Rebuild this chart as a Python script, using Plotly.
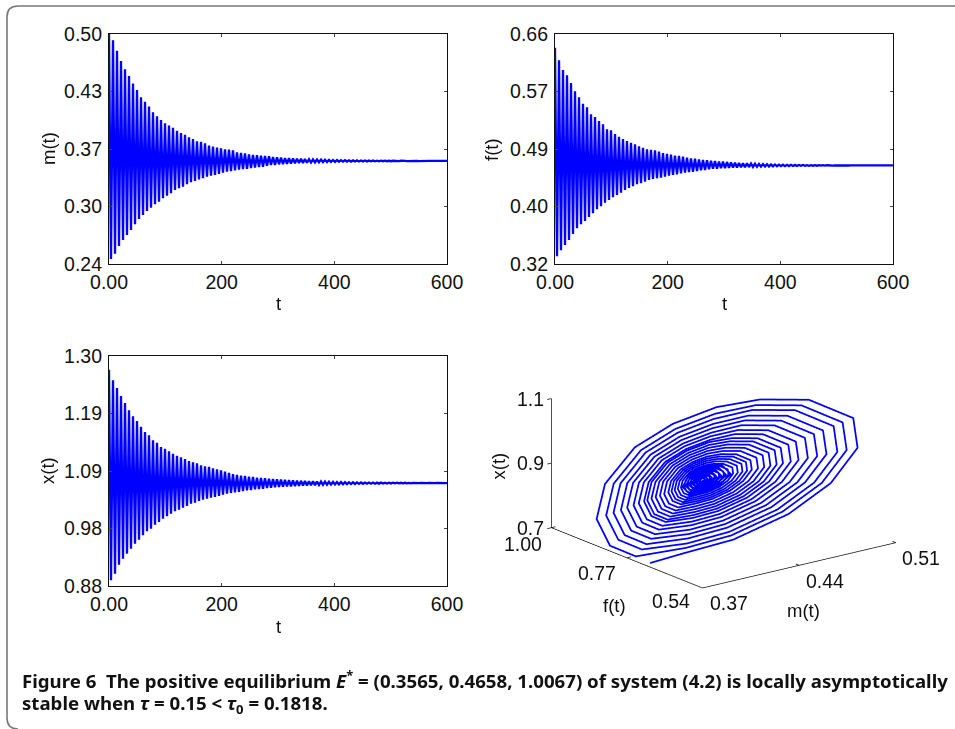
import plotly.graph_objects as go

W, H = 955, 729
t_cycle = [0,7.1,14.2,21.3,28.4,35.5,42.6,49.7,56.8,63.9,71,78.1,85.2,92.3,99.4,106.5,113.6,120.7,127.8,134.9,142,149.1,156.2,163.3,170.4,177.5,184.6,191.7,198.8,205.9,213,220.1,227.2,234.3,241.4,248.5,255.6,262.7,269.8,276.9,284,291.1,298.2,305.3,312.4,319.5,326.6,333.7,340.8,347.9,355,362.1,369.2,376.3,383.4,390.5,397.6,404.7,411.8,418.9,426,433.1,440.2,447.3,454.4,461.5,468.6,475.7,482.8,489.9,497,504.1,511.2,518.3,525.4,532.5,539.6,546.7,553.8,560.9,568,575.1,582.2,589.3,596.4]
half_period = 3.55

m_up = [.5000,.4930,.4810,.4695,.4600,.4525,.4440,.4367,.4285,.4235,.4180,.4115,.4070,.4028,.3990,.3965,.3940,.3907,.3880,.3860,.3832,.3813,.3787,.3780,.3765,.3738,.3726,.3715,.3708,.3697,.3692,.3685,.3663,.3655,.3651,.3640,.3632,.3629,.3625,.3621,.3617,.3610,.3606,.3602,.3598,.3596,.3593,.3591,.3589,.3587,.3585,.3583,.3581,.3580,.3578,.3577,.3576,.3575,.3574,.3573,.3572,.3571,.3571,.3570,.3570,.3569,.3569,.3568,.3568,.3568,.3567,.3567,.3567,.3567,.3566,.3566,.3566,.3566,.3566,.3566,.3566,.3566,.3566,.3566,.3566]
m_dn = [.2457,.2517,.2604,.2671,.2728,.2784,.2849,.2909,.2954,.2999,.3036,.3075,.3104,.3143,.3172,.3199,.3237,.3256,.3274,.3301,.3324,.3338,.3357,.3369,.3387,.3398,.3406,.3417,.3432,.3443,.3451,.3459,.3466,.3474,.3477,.3485,.3489,.3496,.3500,.3511,.3519,.3519,.3527,.3530,.3533,.3536,.3539,.3541,.3543,.3545,.3547,.3549,.3550,.3552,.3553,.3554,.3555,.3556,.3557,.3558,.3558,.3559,.3559,.3560,.3560,.3561,.3561,.3561,.3562,.3562,.3562,.3563,.3563,.3563,.3564,.3564,.3564,.3564,.3564,.3565,.3565,.3565,.3565,.3565,.3565]
f_up = [.6398,.6211,.6068,.5989,.5876,.5753,.5664,.5570,.5516,.5413,.5373,.5314,.5265,.5191,.5176,.5122,.5082,.5048,.5018,.4993,.4970,.4940,.4919,.4896,.4888,.4880,.4860,.4841,.4830,.4816,.4801,.4797,.4786,.4772,.4762,.4757,.4747,.4737,.4733,.4727,.4723,.4713,.4713,.4708,.4703,.4699,.4695,.4691,.4688,.4685,.4682,.4679,.4677,.4675,.4673,.4671,.4669,.4668,.4667,.4666,.4665,.4664,.4663,.4662,.4662,.4661,.4661,.4660,.4660,.4660,.4659,.4659,.4659,.4659,.4658,.4658,.4658,.4658,.4658,.4658,.4658,.4658,.4658,.4658,.4658]
f_dn = [.3314,.3402,.3481,.3555,.3644,.3728,.3787,.3836,.3895,.3949,.4009,.4053,.4106,.4146,.4186,.4220,.4254,.4294,.4324,.4349,.4378,.4393,.4417,.4442,.4457,.4467,.4476,.4491,.4506,.4516,.4526,.4541,.4550,.4560,.4564,.4575,.4585,.4590,.4600,.4609,.4609,.4615,.4618,.4621,.4624,.4627,.4629,.4631,.4633,.4635,.4637,.4639,.4641,.4642,.4644,.4645,.4646,.4647,.4648,.4649,.4650,.4651,.4652,.4652,.4653,.4653,.4654,.4654,.4655,.4655,.4655,.4656,.4656,.4656,.4656,.4656,.4657,.4657,.4657,.4657,.4657,.4657,.4657,.4657,.4657]
x_up = [1.2750,1.2556,1.2416,1.2270,1.2142,1.2008,1.1899,1.1813,1.1709,1.1612,1.1552,1.1460,1.1417,1.1338,1.1307,1.1260,1.1216,1.1179,1.1150,1.1119,1.1083,1.1059,1.1041,1.1004,1.0986,1.0978,1.0949,1.0931,1.0912,1.0888,1.0864,1.0845,1.0827,1.0814,1.0809,1.0796,1.0790,1.0778,1.0772,1.0767,1.0760,1.0754,1.0748,1.0743,1.0738,1.0733,1.0729,1.0725,1.0721,1.0718,1.0715,1.0712,1.0709,1.0707,1.0705,1.0703,1.0701,1.0700,1.0698,1.0696,1.0695,1.0694,1.0692,1.0691,1.0690,1.0690,1.0689,1.0688,1.0688,1.0687,1.0687,1.0686,1.0686,1.0685,1.0685,1.0684,1.0684,1.0684,1.0683,1.0683,1.0683,1.0682,1.0682,1.0682,1.0682]
x_dn = [.8904,.9025,.9189,.9299,.9391,.9482,.9573,.9646,.9726,.9799,.9846,.9919,.9969,1.0029,1.0073,1.0120,1.0164,1.0193,1.0229,1.0261,1.0303,1.0321,1.0352,1.0376,1.0394,1.0412,1.0425,1.0444,1.0467,1.0485,1.0498,1.0511,1.0517,1.0535,1.0547,1.0553,1.0566,1.0571,1.0577,1.0590,1.0595,1.0602,1.0607,1.0612,1.0617,1.0621,1.0625,1.0629,1.0633,1.0636,1.0639,1.0642,1.0645,1.0647,1.0650,1.0652,1.0654,1.0656,1.0658,1.0660,1.0662,1.0663,1.0665,1.0666,1.0667,1.0668,1.0669,1.0670,1.0671,1.0672,1.0673,1.0674,1.0675,1.0675,1.0676,1.0676,1.0677,1.0677,1.0678,1.0678,1.0678,1.0679,1.0679,1.0679,1.0679]

m_ticks = [.50,.435,.37,.305,.24]; m_ticktext = ["0.50","0.43","0.37","0.30","0.24"]
f_ticks = [.66,.575,.49,.405,.32]; f_ticktext = ["0.66","0.57","0.49","0.40","0.32"]
x_ticks = [1.30,1.195,1.09,.985,.88]; x_ticktext = ["1.30","1.19","1.09","0.98","0.88"]
t_ticks = [0,200,400,600]; t_ticktext = ["0.00","200","400","600"]

# 3D trajectory (m, f, x)
m3 = [.4027,.4205,.4456,.4741,.4958,.5096,.5074,.4845,.4594,.4369,.4144,.3949,.3795,.3752,.3821,.3954,
 .4211,.4445,.4710,.4912,.5040,.5019,.4807,.4573,.4362,.4158,.3980,.3840,.3801,.3864,.3985,
 .4217,.4435,.4683,.4872,.4992,.4973,.4774,.4555,.4357,.4168,.4004,.3875,.3839,.3897,.4009,
 .4223,.4424,.4652,.4825,.4936,.4918,.4735,.4534,.4352,.4179,.4029,.3910,.3877,.3930,.4032,
 .4228,.4414,.4625,.4786,.4888,.4871,.4702,.4516,.4348,.4188,.4049,.3940,.3909,.3958,.4053,
 .4234,.4404,.4598,.4746,.4840,.4825,.4669,.4498,.4343,.4197,.4070,.3970,.3942,.3987,.4073,
 .4239,.4395,.4572,.4706,.4792,.4778,.4636,.4480,.4339,.4204,.4087,.3995,.3969,.4011,.4090,
 .4244,.4387,.4549,.4673,.4752,.4739,.4609,.4465,.4336,.4212,.4105,.4020,.3996,.4034,.4107,
 .4248,.4379,.4527,.4640,.4712,.4700,.4581,.4450,.4333,.4216,.4115,.4035,.4013,.4049,.4118,
 .4252,.4372,.4509,.4613,.4679,.4669,.4559,.4439,.4331,.4223,.4129,.4055,.4034,.4067,.4131,
 .4255,.4366,.4491,.4587,.4647,.4638,.4537,.4427,.4328,.4229,.4143,.4075,.4056,.4086,.4145,
 .4259,.4359,.4473,.4560,.4615,.4607,.4515,.4415,.4325,.4235,.4157,.4095,.4078,.4105,.4159,
 .4263,.4353,.4456,.4534,.4583,.4575,.4493,.4403,.4322,.4241,.4170,.4115,.4100,.4124,.4172,
 .4266,.4347,.4438,.4507,.4551,.4544,.4471,.4391,.4319,.4247,.4184,.4135,.4121,.4143,.4186,
 .4269,.4342,.4424,.4487,.4527,.4521,.4455,.4382,.4316,.4251,.4195,.4150,.4138,.4158,.4196,
 .4272,.4337,.4411,.4467,.4503,.4498,.4438,.4373,.4314,.4256,.4205,.4165,.4154,.4172,.4206,
 .4274,.4332,.4398,.4447,.4479,.4474,.4422,.4364,.4312,.4260,.4215,.4180,.4170,.4186,.4217,
 .4277,.4327,.4384,.4428,.4455,.4451,.4405,.4355,.4310,.4265,.4226,.4195,.4186,.4200,.4227,
 .4278,.4378,.4443,.4397,.4309,.4231,.4195,.4232,
 .4280,.4322,.4371,.4408,.4431,.4427,.4389,.4346,.4308,.4269,.4236,.4210,.4203,.4214,.4237,
 .4281,.4364,.4419,.4380,.4306,.4241,.4211,.4242,
 .4282,.4318,.4357,.4388,.4407,.4404,.4372,.4337,.4305,.4274,.4247,.4225,.4219,.4229,.4247,
 .4284,.4351,.4395,.4364,.4304,.4252,.4227,.4252,
 .4285,.4313,.4344,.4368,.4383,.4381,.4356,.4328,.4303,.4278,.4257,.4240,.4235,.4243,.4257,
 .4286,.4337,.4371,.4347,.4302,.4262,.4243,.4263,
 .4288,.4308,.4331,.4348,.4359,.4357,.4339,.4319,.4301,.4283,.4267,.4255,.4252,.4257,.4268,
 .4289,.4324,.4347,.4331,.4300,.4273,.4260,.4273,
 .4290,.4303,.4317,.4328,.4335,.4334,.4323,.4310,.4299,.4287,.4278,.4270,.4268,.4271,.4278,
 .4292,.4311,.4323,.4314,.4298,.4283,.4276,.4283,
 .4293,.4304,.4311,.4306,.4296,.4288,.4284,.4288]
f3 = [.8372,.8068,.7641,.7154,.6785,.6549,.6587,.6977,.7405,.7788,.8172,.8505,.8768,.8841,.8723,.8496,
 .8057,.7660,.7207,.6864,.6645,.6680,.7043,.7441,.7799,.8149,.8452,.8691,.8758,.8650,.8444,
 .8048,.7677,.7253,.6932,.6727,.6760,.7099,.7471,.7808,.8131,.8411,.8632,.8693,.8594,.8403,
 .8037,.7696,.7306,.7011,.6822,.6853,.7165,.7507,.7817,.8113,.8369,.8572,.8628,.8537,.8362,
 .8028,.7712,.7352,.7079,.6904,.6932,.7221,.7538,.7825,.8097,.8334,.8521,.8572,.8489,.8328,
 .8019,.7729,.7398,.7147,.6986,.7012,.7277,.7568,.7832,.8082,.8299,.8469,.8517,.8440,.8293,
 .8010,.7745,.7443,.7214,.7068,.7092,.7333,.7599,.7839,.8069,.8269,.8427,.8471,.8400,.8264,
 .8002,.7759,.7481,.7271,.7136,.7158,.7380,.7624,.7845,.8056,.8240,.8384,.8424,.8359,.8235,
 .7995,.7773,.7519,.7327,.7205,.7224,.7427,.7650,.7849,.8049,.8222,.8359,.8397,.8335,.8217,
 .7988,.7783,.7550,.7373,.7259,.7278,.7465,.7670,.7854,.8038,.8198,.8324,.8359,.8303,.8194,
 .7982,.7794,.7580,.7418,.7314,.7331,.7502,.7691,.7859,.8028,.8175,.8290,.8322,.8271,.8171,
 .7976,.7805,.7611,.7463,.7369,.7384,.7540,.7711,.7864,.8018,.8151,.8256,.8285,.8238,.8147,
 .7970,.7816,.7641,.7508,.7423,.7437,.7577,.7731,.7869,.8008,.8127,.8222,.8248,.8206,.8124,
 .7964,.7827,.7671,.7553,.7478,.7490,.7615,.7752,.7874,.7997,.8104,.8188,.8211,.8174,.8101,
 .7959,.7836,.7694,.7587,.7519,.7530,.7643,.7767,.7878,.7990,.8086,.8162,.8184,.8149,.8083,
 .7955,.7844,.7717,.7621,.7560,.7570,.7671,.7782,.7882,.7982,.8068,.8137,.8156,.8125,.8066,
 .7950,.7852,.7740,.7655,.7601,.7610,.7699,.7798,.7886,.7974,.8051,.8111,.8128,.8101,.8049,
 .7946,.7860,.7763,.7689,.7642,.7649,.7727,.7813,.7890,.7966,.8033,.8086,.8100,.8077,.8031,
 .7943,.7774,.7662,.7741,.7892,.8024,.8086,.8022,
 .7941,.7868,.7786,.7723,.7683,.7689,.7756,.7828,.7893,.7959,.8015,.8060,.8072,.8052,.8014,
 .7939,.7797,.7703,.7770,.7895,.8006,.8059,.8005,
 .7936,.7877,.7808,.7757,.7724,.7729,.7784,.7844,.7897,.7951,.7998,.8034,.8045,.8028,.7996,
 .7934,.7820,.7744,.7798,.7899,.7989,.8031,.7988,
 .7932,.7885,.7831,.7791,.7765,.7769,.7812,.7859,.7901,.7943,.7980,.8009,.8017,.8004,.7979,
 .7930,.7843,.7785,.7826,.7903,.7971,.8003,.7970,
 .7927,.7893,.7854,.7825,.7806,.7809,.7840,.7874,.7905,.7936,.7962,.7983,.7989,.7980,.7961,
 .7925,.7866,.7826,.7854,.7907,.7953,.7975,.7953,
 .7923,.7901,.7877,.7858,.7847,.7849,.7868,.7889,.7909,.7928,.7945,.7958,.7961,.7955,.7944,
 .7920,.7888,.7867,.7882,.7911,.7936,.7947,.7935,
 .7918,.7900,.7888,.7896,.7912,.7927,.7934,.7927]
x3 = [.6237,.6493,.6830,.7538,.8424,.9477,1.0404,1.1043,1.1130,1.0961,1.0513,.9849,.8759,.7686,.6838,.6466,
 .6650,.6963,.7621,.8445,.9425,1.0287,1.0881,1.0962,1.0760,1.0353,.9748,.8756,.7780,.7008,.6670,
 .6784,.7077,.7693,.8464,.9380,1.0186,1.0742,1.0818,1.0604,1.0228,.9670,.8754,.7853,.7141,.6828,
 .6940,.7210,.7776,.8485,.9328,1.0069,1.0580,1.0650,1.0448,1.0103,.9592,.8752,.7926,.7273,.6987,
 .7075,.7324,.7848,.8504,.9283,.9969,1.0442,1.0506,1.0314,.9996,.9524,.8751,.7989,.7387,.7123,
 .7209,.7438,.7919,.8522,.9238,.9868,1.0303,1.0362,1.0180,.9889,.9457,.8749,.8051,.7500,.7258,
 .7343,.7552,.7991,.8540,.9193,.9768,1.0164,1.0218,1.0069,.9800,.9401,.8747,.8104,.7595,.7372,
 .7455,.7647,.8051,.8556,.9156,.9684,1.0048,1.0098,.9957,.9711,.9345,.8746,.8156,.7689,.7485,
 .7567,.7742,.8110,.8571,.9118,.9600,.9933,.9978,.9890,.9657,.9312,.8745,.8187,.7746,.7553,
 .7656,.7818,.8158,.8583,.9089,.9534,.9840,.9882,.9801,.9586,.9267,.8744,.8229,.7822,.7643,
 .7746,.7894,.8206,.8595,.9059,.9467,.9748,.9786,.9712,.9515,.9222,.8743,.8271,.7898,.7734,
 .7835,.7970,.8253,.8608,.9029,.9400,.9655,.9690,.9622,.9443,.9178,.8742,.8312,.7973,.7824,
 .7925,.8046,.8301,.8620,.8999,.9333,.9563,.9594,.9533,.9372,.9133,.8740,.8354,.8049,.7915,
 .8014,.8122,.8349,.8632,.8969,.9266,.9470,.9498,.9444,.9301,.9088,.8739,.8396,.8125,.8006,
 .8081,.8179,.8384,.8641,.8947,.9215,.9401,.9426,.9377,.9247,.9055,.8738,.8427,.8181,.8073,
 .8148,.8236,.8420,.8650,.8924,.9165,.9331,.9354,.9310,.9194,.9021,.8738,.8459,.8238,.8141,
 .8215,.8293,.8456,.8660,.8902,.9115,.9262,.9282,.9243,.9140,.8987,.8737,.8490,.8295,.8209,
 .8283,.8350,.8492,.8669,.8879,.9065,.9193,.9210,.9176,.9087,.8954,.8736,.8521,.8352,.8277,
 .8316,.8509,.8868,.9158,.9143,.8937,.8537,.8311,
 .8350,.8407,.8527,.8678,.8857,.9015,.9123,.9138,.9109,.9033,.8920,.8735,.8553,.8408,.8345,
 .8383,.8545,.8846,.9089,.9076,.8903,.8568,.8379,
 .8417,.8464,.8563,.8687,.8835,.8964,.9054,.9066,.9042,.8980,.8887,.8734,.8584,.8465,.8413,
 .8450,.8581,.8823,.9019,.9009,.8870,.8600,.8447,
 .8484,.8521,.8599,.8696,.8812,.8914,.8984,.8994,.8975,.8926,.8853,.8733,.8615,.8522,.8481,
 .8517,.8617,.8801,.8950,.8942,.8836,.8631,.8515,
 .8551,.8578,.8635,.8706,.8790,.8864,.8915,.8922,.8908,.8873,.8820,.8732,.8646,.8579,.8549,
 .8585,.8653,.8779,.8880,.8875,.8803,.8662,.8583,
 .8618,.8635,.8670,.8715,.8767,.8814,.8846,.8850,.8842,.8819,.8786,.8731,.8678,.8635,.8617,
 .8652,.8688,.8756,.8811,.8808,.8769,.8693,.8651,
 .8685,.8706,.8745,.8776,.8775,.8752,.8709,.8685]

m3_axis = [.37,.44,.51]; f3_axis = [.54,.77,1.00]; x3_axis = [.7,.9,1.1]
m3_text = ["0.37","0.44","0.51"]; f3_text = ["0.54","0.77","1.00"]; x3_text = ["0.7","0.9","1.1"]

BLUE = "#0000FF"; FS = 19.5; FT = 18.5; FONT = "Liberation Sans"; INK = "#111111"

def zigzag(t, up, dn):
    xs, ys = [], []
    for ti, u, d in zip(t, up, dn):
        xs += [ti, ti + half_period]; ys += [u, d]
    return xs, ys

panels = [
    ("", [109,447,34,264], m_up, m_dn, m_ticks, m_ticktext, [.24,.50], "m(t)", 48),
    ("2", [555,893,34,264], f_up, f_dn, f_ticks, f_ticktext, [.32,.66], "f(t)", 491),
    ("3", [109,447,356,586], x_up, x_dn, x_ticks, x_ticktext, [.88,1.30], "x(t)", 48),
]
fig = go.Figure()
for sfx, (l, r, tp, b), up, dn, tv, tt, rng, name, ty in panels:
    xs, ys = zigzag(t_cycle, up, dn)
    fig.add_trace(go.Scatter(x=xs, y=ys, mode="lines", line=dict(color=BLUE, width=2.3), xaxis="x"+sfx, yaxis="y"+sfx, showlegend=False, hoverinfo="skip"))
    fig.update_layout(**{
        "xaxis"+sfx: dict(domain=[l/W, r/W], range=[0,600], tickvals=t_ticks, ticktext=t_ticktext, ticks="inside", ticklen=3, mirror="ticks", showline=True, linecolor=INK, linewidth=1.2, showgrid=False, zeroline=False, tickfont=dict(size=FS, family=FONT, color=INK), anchor="y"+sfx),
        "yaxis"+sfx: dict(domain=[1-b/H, 1-tp/H], range=rng, tickvals=tv, ticktext=tt, ticks="inside", ticklen=3, mirror="ticks", showline=True, linecolor=INK, linewidth=1.2, showgrid=False, zeroline=False, tickfont=dict(size=FS, family=FONT, color=INK), ticklabelstandoff=2, anchor="x"+sfx),
    })
    fig.add_annotation(xref="paper", yref="paper", x=(l+r)/2/W, y=1-(b+40)/H, xanchor="center", yanchor="middle", text="t", showarrow=False, font=dict(size=FT, family=FONT, color=INK))
    fig.add_annotation(xref="paper", yref="paper", x=ty/W, y=1-(tp+b)/2/H, xanchor="center", yanchor="middle", text=name, textangle=-90, showarrow=False, font=dict(size=FT, family=FONT, color=INK))

# 3D
fig.add_trace(go.Scatter3d(x=m3, y=f3, z=x3, mode="lines", line=dict(color=BLUE, width=3.5), showlegend=False, hoverinfo="skip"))
lm, lf, lz = [], [], []
def seg(a, b):
    lm.extend([a[0], b[0], None]); lf.extend([a[1], b[1], None]); lz.extend([a[2], b[2], None])
m0, m1 = m3_axis[0], m3_axis[-1]; f0, f1 = f3_axis[0], f3_axis[-1]; z0, z1 = x3_axis[0], x3_axis[-1]
seg((m0,f0,z0),(m1,f0,z0)); seg((m0,f0,z0),(m0,f1,z0)); seg((m0,f1,z0),(m0,f1,z1))
for v in m3_axis: seg((v,f0,z0),(v,f0+.01,z0))
for v in f3_axis: seg((m0,v,z0),(m0+.003,v,z0))
for v in x3_axis: seg((m0,f1,v),(m0-.003,f1,v))
fig.add_trace(go.Scatter3d(x=lm, y=lf, z=lz, mode="lines", line=dict(color=INK, width=1.5), showlegend=False, hoverinfo="skip"))

def ann3(x, y, z, text, xs, ys, angle=0, size=FS):
    return dict(x=x, y=y, z=z, text=text, showarrow=False, xshift=xs, yshift=ys, textangle=angle, font=dict(family=FONT, size=size, color=INK))
anns = []
for v, s, xs, ys in zip(m3_axis, m3_text, [27,26,25], [-15,-15.5,-15]): anns.append(ann3(v, f0, z0, s, xs, ys))
for v, s, xs, ys in zip(f3_axis, f3_text, [-31,-30,-28], [-13,-15,-16]): anns.append(ann3(m0, v, z0, s, xs, ys))
for v, s in zip(x3_axis, x3_text): anns.append(ann3(m0, f1, v, s, -21, 0))
anns.append(ann3(m3_axis[1], f0, z0, "m(t)", 4, -45, size=FT))
anns.append(ann3(m0, f3_axis[1], z0, "f(t)", -12, -48, size=FT))
anns.append(ann3(m0, f1, x3_axis[1], "x(t)", -53, -3, angle=-90, size=FT))
hidden = dict(visible=False)
fig.update_layout(scene=dict(
    domain=dict(x=[534/W, 954/W], y=[1-650/H, 1-290/H]),
    xaxis=dict(range=[.30,.60], **hidden), yaxis=dict(range=[.45,1.05], **hidden), zaxis=dict(range=[.60,1.20], **hidden),
    aspectmode="manual", aspectratio=dict(x=2.9, y=1.8, z=1.13),
    camera=dict(eye=dict(x=-.579*5, y=-.756*5, z=.306*5), up=dict(x=0,y=0,z=1), center=dict(x=0,y=0,z=0), projection=dict(type="orthographic")),
    bgcolor="rgba(0,0,0,0)", annotations=anns))

fig.add_shape(type="path", xref="paper", yref="paper", line=dict(color="#777777", width=1.6),
    path=f"M 1 {1-6/H} L {18/W} {1-6/H} Q {7/W} {1-6/H} {7/W} {1-17/H} L {7/W} {1-718/H} Q {7/W} {1-729/H} {18/W} {1-729/H}")
CAP = "Noto Sans"
fig.add_annotation(xref="paper", yref="paper", x=20/W, y=1-679/H, xanchor="left", yanchor="middle", showarrow=False, align="left",
    text="<b>Figure 6  The positive equilibrium <i>E</i><sup>*</sup> = (0.3565, 0.4658, 1.0067) of system (4.2) is locally asymptotically</b>",
    font=dict(family=CAP, size=18.65, color="#111111"))
fig.add_annotation(xref="paper", yref="paper", x=20/W, y=1-704/H, xanchor="left", yanchor="middle", showarrow=False, align="left",
    text="<b>stable when <i>τ</i> = 0.15 &lt; <i>τ</i><sub>0</sub> = 0.1818.</b>",
    font=dict(family=CAP, size=18.65, color="#111111"))

fig.update_layout(width=W, height=H, margin=dict(l=0,r=0,t=0,b=0,autoexpand=False), paper_bgcolor="white", plot_bgcolor="white", showlegend=False)
fig.write_html("out.html", config=dict(displayModeBar=False), post_script="document.body.style.margin='0';document.body.style.overflow='hidden';")
